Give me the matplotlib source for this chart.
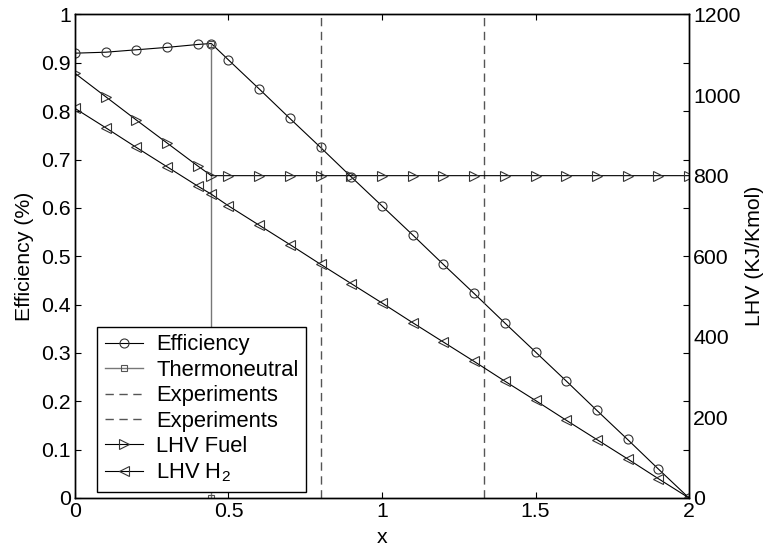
import matplotlib
matplotlib.use("Agg")
import matplotlib.pyplot as plt

plt.rcParams['font.family'] = ['Liberation Sans', 'DejaVu Sans']
plt.rcParams['mathtext.fontset'] = 'custom'
plt.rcParams['mathtext.rm'] = 'Liberation Sans'
plt.rcParams['mathtext.it'] = 'Liberation Sans'
FS = 15.3
LFS = 15.8

# ---- data ----
x = [0.0, 0.1, 0.2, 0.3, 0.4, 0.444, 0.5, 0.6, 0.7, 0.8, 0.9, 1.0, 1.1, 1.2,
     1.3, 1.4, 1.5, 1.6, 1.7, 1.8, 1.9, 2.0]
efficiency = [0.920, 0.922, 0.927, 0.932, 0.938, 0.940, 0.906, 0.846, 0.785,
              0.725, 0.664, 0.604, 0.544, 0.483, 0.423, 0.362, 0.302, 0.242,
              0.181, 0.121, 0.060, 0.0]
lhv_fuel = [1054, 996, 938, 881, 824, 800, 800, 800, 800, 800, 800, 800, 800,
            800, 800, 800, 800, 800, 800, 800, 800, 800]
lhv_h2 = [967, 919, 870, 822, 774, 754, 725, 677, 629, 580, 532, 484, 435,
          387, 339, 290, 242, 193, 145, 97, 48, 0]
thermo_x = [0.444, 0.444]
thermo_y = [0.940, 0.0]
exp1_x = [0.8, 0.8]
exp2_x = [1.333, 1.333]
exp_y = [0.0, 1.0]

xticks = [0, 0.5, 1, 1.5, 2]
xticklabels = ['0', '0.5', '1', '1.5', '2']
yticks = [0, 0.1, 0.2, 0.3, 0.4, 0.5, 0.6, 0.7, 0.8, 0.9, 1.0]
yticklabels = ['0', '0.1', '0.2', '0.3', '0.4', '0.5', '0.6', '0.7', '0.8', '0.9', '1']
y2ticks = [0, 200, 400, 600, 800, 1000, 1200]

# ---- figure ----
fig = plt.figure(figsize=(7.69, 5.51), dpi=100)
ax = fig.add_axes([0.0975, 0.0962, 0.7985, 0.8775])
ax2 = ax.twinx()

lw = 0.8
ms = 6.5
h1, = ax.plot(x, efficiency, color='black', lw=lw, marker='o', ms=ms,
              mfc='none', mec='#333333', mew=0.8, label='Efficiency')
h2, = ax.plot(thermo_x, thermo_y, color='#777777', lw=1.0, marker='s', ms=5,
              mfc='none', mec='#555555', mew=0.8, label='Thermoneutral')
h3, = ax.plot(exp1_x, exp_y, color='#555555', lw=1.0, ls=(0, (6, 4)),
              label='Experiments')
h4, = ax.plot(exp2_x, exp_y, color='#555555', lw=1.0, ls=(0, (6, 4)),
              label='Experiments')
h5, = ax2.plot(x, lhv_fuel, color='black', lw=lw, marker='>', ms=ms,
               mfc='none', mec='#333333', mew=0.8, label='LHV Fuel')
h6, = ax2.plot(x, lhv_h2, color='black', lw=lw, marker='<', ms=ms,
               mfc='none', mec='#333333', mew=0.8, label='LHV H$_2$')

ax.set_xlim(0, 2)
ax.set_ylim(0, 1)
ax2.set_ylim(0, 1200)

ax.set_xticks(xticks)
ax.set_xticklabels(xticklabels)
ax.set_yticks(yticks)
ax.set_yticklabels(yticklabels)
ax2.set_yticks(y2ticks)

ax.tick_params(direction='in', length=4.5, width=0.8, labelsize=FS, pad=3,
               top=True, right=True)
ax2.tick_params(axis='y', direction='in', length=0, labelsize=FS, pad=3)

for a in (ax, ax2):
    for s in a.spines.values():
        s.set_linewidth(1.0)
        s.set_color('black')

ax.set_xlabel('x', fontsize=FS, labelpad=5)
ax.set_ylabel('Efficiency (%)', fontsize=FS, labelpad=5)
ax2.set_ylabel('LHV (KJ/Kmol)', fontsize=FS, labelpad=3)

leg = ax2.legend(handles=[h1, h2, h3, h4, h5, h6], loc='lower left',
                 bbox_to_anchor=(0.036, 0.013), fontsize=LFS, frameon=True,
                 fancybox=False, framealpha=1, edgecolor='black',
                 handlelength=1.75, handletextpad=0.6, labelspacing=0.2,
                 borderpad=0.35, borderaxespad=0.0)
leg.get_frame().set_linewidth(1.0)

fig.savefig('out.png', dpi=100)
